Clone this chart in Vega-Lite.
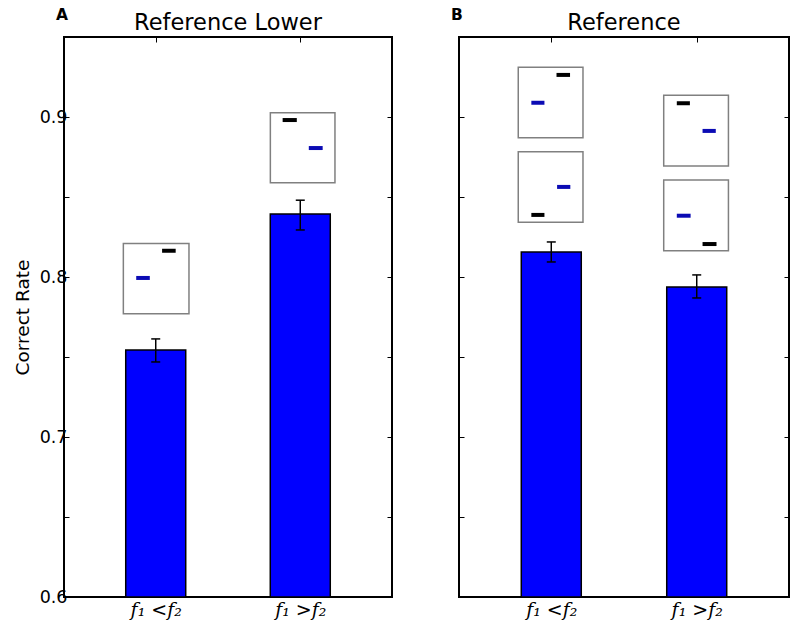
{
  "$schema": "https://vega.github.io/schema/vega-lite/v6.json",
  "padding": {"left": 12, "top": 7, "right": 5, "bottom": 2},
  "spacing": 55,
  "background": "white",
  "config": {
    "view": {"stroke": "black", "strokeWidth": 2},
    "axis": {"grid": false, "domain": false, "tickColor": "black", "tickWidth": 1, "tickSize": -5, "labelColor": "black"},
    "title": {"font": "DejaVu Sans", "fontSize": 22.5, "fontWeight": "normal", "color": "black", "offset": -26}
  },
  "datasets": {
    "barsA": [
      {"cond": 0, "rate": 0.7544, "lo": 0.7469, "hi": 0.7613},
      {"cond": 1, "rate": 0.8394, "lo": 0.8294, "hi": 0.848}
    ],
    "barsB": [
      {"cond": 0, "rate": 0.8156, "lo": 0.8094, "hi": 0.8219},
      {"cond": 1, "rate": 0.7938, "lo": 0.7869, "hi": 0.8013}
    ],
    "boxesA": [
      {"x1": -0.224, "x2": 0.23, "y1": 0.777, "y2": 0.821},
      {"x1": 0.793, "x2": 1.24, "y1": 0.8589, "y2": 0.9027}
    ],
    "boxesB": [
      {"x1": -0.227, "x2": 0.218, "y1": 0.8871, "y2": 0.9311},
      {"x1": -0.227, "x2": 0.218, "y1": 0.8342, "y2": 0.8783},
      {"x1": 0.773, "x2": 1.218, "y1": 0.8694, "y2": 0.9136},
      {"x1": 0.773, "x2": 1.218, "y1": 0.8164, "y2": 0.8606}
    ],
    "dashesA": [
      {"x1": -0.135, "x2": -0.041, "y": 0.7994, "role": "reference"},
      {"x1": 0.044, "x2": 0.138, "y": 0.8164, "role": "comparison"},
      {"x1": 0.878, "x2": 0.976, "y": 0.8981, "role": "comparison"},
      {"x1": 1.059, "x2": 1.155, "y": 0.8806, "role": "reference"}
    ],
    "dashesB": [
      {"x1": 0.036, "x2": 0.129, "y": 0.9263, "role": "comparison"},
      {"x1": -0.137, "x2": -0.047, "y": 0.9089, "role": "reference"},
      {"x1": 0.04, "x2": 0.131, "y": 0.8563, "role": "reference"},
      {"x1": -0.137, "x2": -0.047, "y": 0.8388, "role": "comparison"},
      {"x1": 0.863, "x2": 0.953, "y": 0.9086, "role": "comparison"},
      {"x1": 1.04, "x2": 1.131, "y": 0.8913, "role": "reference"},
      {"x1": 0.863, "x2": 0.958, "y": 0.8383, "role": "reference"},
      {"x1": 1.04, "x2": 1.136, "y": 0.8206, "role": "comparison"}
    ],
    "letterA": [{"panel": "A"}],
    "letterB": [{"panel": "B"}]
  },
  "hconcat": [
    {
      "width": 328,
      "height": 560,
      "title": {"text": "Reference Lower"},
      "resolve": {"axis": {"x": "independent", "y": "independent"}},
      "layer": [
        {
          "data": {"name": "barsA"},
          "mark": {"type": "bar", "width": 60, "fill": "#0000ff", "stroke": "black", "strokeWidth": 1.5},
          "encoding": {
            "x": {"field": "cond", "type": "quantitative", "scale": {"domain": [-0.6, 1.6], "nice": false, "zero": false},
              "axis": {"orient": "bottom", "values": [0, 1], "title": null, "labelExpr": "datum.value == 0 ? 'f₁ <f₂' : 'f₁ >f₂'", "labelFont": "DejaVu Serif", "labelFontStyle": "italic", "labelFontSize": 19, "labelPadding": 8}},
            "y": {"field": "rate", "type": "quantitative", "scale": {"domain": [0.6, 0.95], "nice": false, "zero": false},
              "axis": {"orient": "left", "values": [0.6, 0.65, 0.7, 0.75, 0.8, 0.85, 0.9, 0.95], "format": ".1f", "labelExpr": "abs(datum.value * 10 - round(datum.value * 10)) < 0.01 ? datum.label : ''", "labelFont": "DejaVu Sans", "labelFontSize": 17.5, "labelPadding": 2, "title": "Correct Rate", "titleFont": "DejaVu Sans", "titleFontSize": 18.5, "titleFontWeight": "normal", "titleColor": "black", "titlePadding": 7}},
            "y2": {"datum": 0.6}
          }
        },
        {
          "data": {"name": "barsA"},
          "mark": {"type": "rule", "color": "black", "strokeWidth": 1.5},
          "encoding": {
            "x": {"field": "cond", "type": "quantitative", "scale": {"domain": [-0.6, 1.6], "nice": false, "zero": false},
              "axis": {"orient": "top", "values": [0, 1], "labels": false, "title": null}},
            "y": {"field": "lo", "type": "quantitative", "scale": {"domain": [0.6, 0.95], "nice": false, "zero": false},
              "axis": {"orient": "right", "values": [0.6, 0.65, 0.7, 0.75, 0.8, 0.85, 0.9, 0.95], "labels": false, "title": null}},
            "y2": {"field": "hi"}
          }
        },
        {
          "data": {"name": "barsA"},
          "mark": {"type": "tick", "orient": "horizontal", "size": 9, "thickness": 1.5, "color": "black", "opacity": 1},
          "encoding": {
            "x": {"field": "cond", "type": "quantitative", "axis": null},
            "y": {"field": "lo", "type": "quantitative", "axis": null}
          }
        },
        {
          "data": {"name": "barsA"},
          "mark": {"type": "tick", "orient": "horizontal", "size": 9, "thickness": 1.5, "color": "black", "opacity": 1},
          "encoding": {
            "x": {"field": "cond", "type": "quantitative", "axis": null},
            "y": {"field": "hi", "type": "quantitative", "axis": null}
          }
        },
        {
          "data": {"name": "boxesA"},
          "mark": {"type": "rect", "fill": "white", "stroke": "#808080", "strokeWidth": 1.5},
          "encoding": {
            "x": {"field": "x1", "type": "quantitative", "axis": null},
            "x2": {"field": "x2"},
            "y": {"field": "y1", "type": "quantitative", "axis": null},
            "y2": {"field": "y2"}
          }
        },
        {
          "data": {"name": "dashesA"},
          "mark": {"type": "rule", "strokeWidth": 4},
          "encoding": {
            "x": {"field": "x1", "type": "quantitative", "axis": null},
            "x2": {"field": "x2"},
            "y": {"field": "y", "type": "quantitative", "axis": null},
            "color": {"field": "role", "type": "nominal", "scale": {"domain": ["reference", "comparison"], "range": ["#0b0bb4", "#000000"]}, "legend": null}
          }
        },
        {
          "data": {"name": "letterA"},
          "mark": {"type": "text", "font": "DejaVu Sans", "fontSize": 15.5, "fontWeight": "bold", "align": "left", "baseline": "middle", "color": "black"},
          "encoding": {
            "text": {"field": "panel"},
            "x": {"datum": -0.69, "type": "quantitative", "axis": null},
            "y": {"datum": 0.9635, "type": "quantitative", "axis": null}
          }
        }
      ]
    },
    {
      "width": 330,
      "height": 560,
      "title": {"text": "Reference"},
      "resolve": {"axis": {"x": "independent", "y": "independent"}},
      "layer": [
        {
          "data": {"name": "barsB"},
          "mark": {"type": "bar", "width": 60, "fill": "#0000ff", "stroke": "black", "strokeWidth": 1.5},
          "encoding": {
            "x": {"field": "cond", "type": "quantitative", "scale": {"domain": [-0.6, 1.6], "nice": false, "zero": false},
              "axis": {"orient": "bottom", "values": [0, 1], "title": null, "labelExpr": "datum.value == 0 ? 'f₁ <f₂' : 'f₁ >f₂'", "labelFont": "DejaVu Serif", "labelFontStyle": "italic", "labelFontSize": 19, "labelPadding": 8}},
            "y": {"field": "rate", "type": "quantitative", "scale": {"domain": [0.6, 0.95], "nice": false, "zero": false},
              "axis": {"orient": "left", "values": [0.6, 0.65, 0.7, 0.75, 0.8, 0.85, 0.9, 0.95], "labels": false, "title": null}},
            "y2": {"datum": 0.6}
          }
        },
        {
          "data": {"name": "barsB"},
          "mark": {"type": "rule", "color": "black", "strokeWidth": 1.5},
          "encoding": {
            "x": {"field": "cond", "type": "quantitative", "scale": {"domain": [-0.6, 1.6], "nice": false, "zero": false},
              "axis": {"orient": "top", "values": [0, 1], "labels": false, "title": null}},
            "y": {"field": "lo", "type": "quantitative", "scale": {"domain": [0.6, 0.95], "nice": false, "zero": false},
              "axis": {"orient": "right", "values": [0.6, 0.65, 0.7, 0.75, 0.8, 0.85, 0.9, 0.95], "labels": false, "title": null}},
            "y2": {"field": "hi"}
          }
        },
        {
          "data": {"name": "barsB"},
          "mark": {"type": "tick", "orient": "horizontal", "size": 9, "thickness": 1.5, "color": "black", "opacity": 1},
          "encoding": {
            "x": {"field": "cond", "type": "quantitative", "axis": null},
            "y": {"field": "lo", "type": "quantitative", "axis": null}
          }
        },
        {
          "data": {"name": "barsB"},
          "mark": {"type": "tick", "orient": "horizontal", "size": 9, "thickness": 1.5, "color": "black", "opacity": 1},
          "encoding": {
            "x": {"field": "cond", "type": "quantitative", "axis": null},
            "y": {"field": "hi", "type": "quantitative", "axis": null}
          }
        },
        {
          "data": {"name": "boxesB"},
          "mark": {"type": "rect", "fill": "white", "stroke": "#808080", "strokeWidth": 1.5},
          "encoding": {
            "x": {"field": "x1", "type": "quantitative", "axis": null},
            "x2": {"field": "x2"},
            "y": {"field": "y1", "type": "quantitative", "axis": null},
            "y2": {"field": "y2"}
          }
        },
        {
          "data": {"name": "dashesB"},
          "mark": {"type": "rule", "strokeWidth": 4},
          "encoding": {
            "x": {"field": "x1", "type": "quantitative", "axis": null},
            "x2": {"field": "x2"},
            "y": {"field": "y", "type": "quantitative", "axis": null},
            "color": {"field": "role", "type": "nominal", "scale": {"domain": ["reference", "comparison"], "range": ["#0b0bb4", "#000000"]}, "legend": null}
          }
        },
        {
          "data": {"name": "letterB"},
          "mark": {"type": "text", "font": "DejaVu Sans", "fontSize": 15.5, "fontWeight": "bold", "align": "left", "baseline": "middle", "color": "black"},
          "encoding": {
            "text": {"field": "panel"},
            "x": {"datum": -0.69, "type": "quantitative", "axis": null},
            "y": {"datum": 0.9635, "type": "quantitative", "axis": null}
          }
        }
      ]
    }
  ]
}
